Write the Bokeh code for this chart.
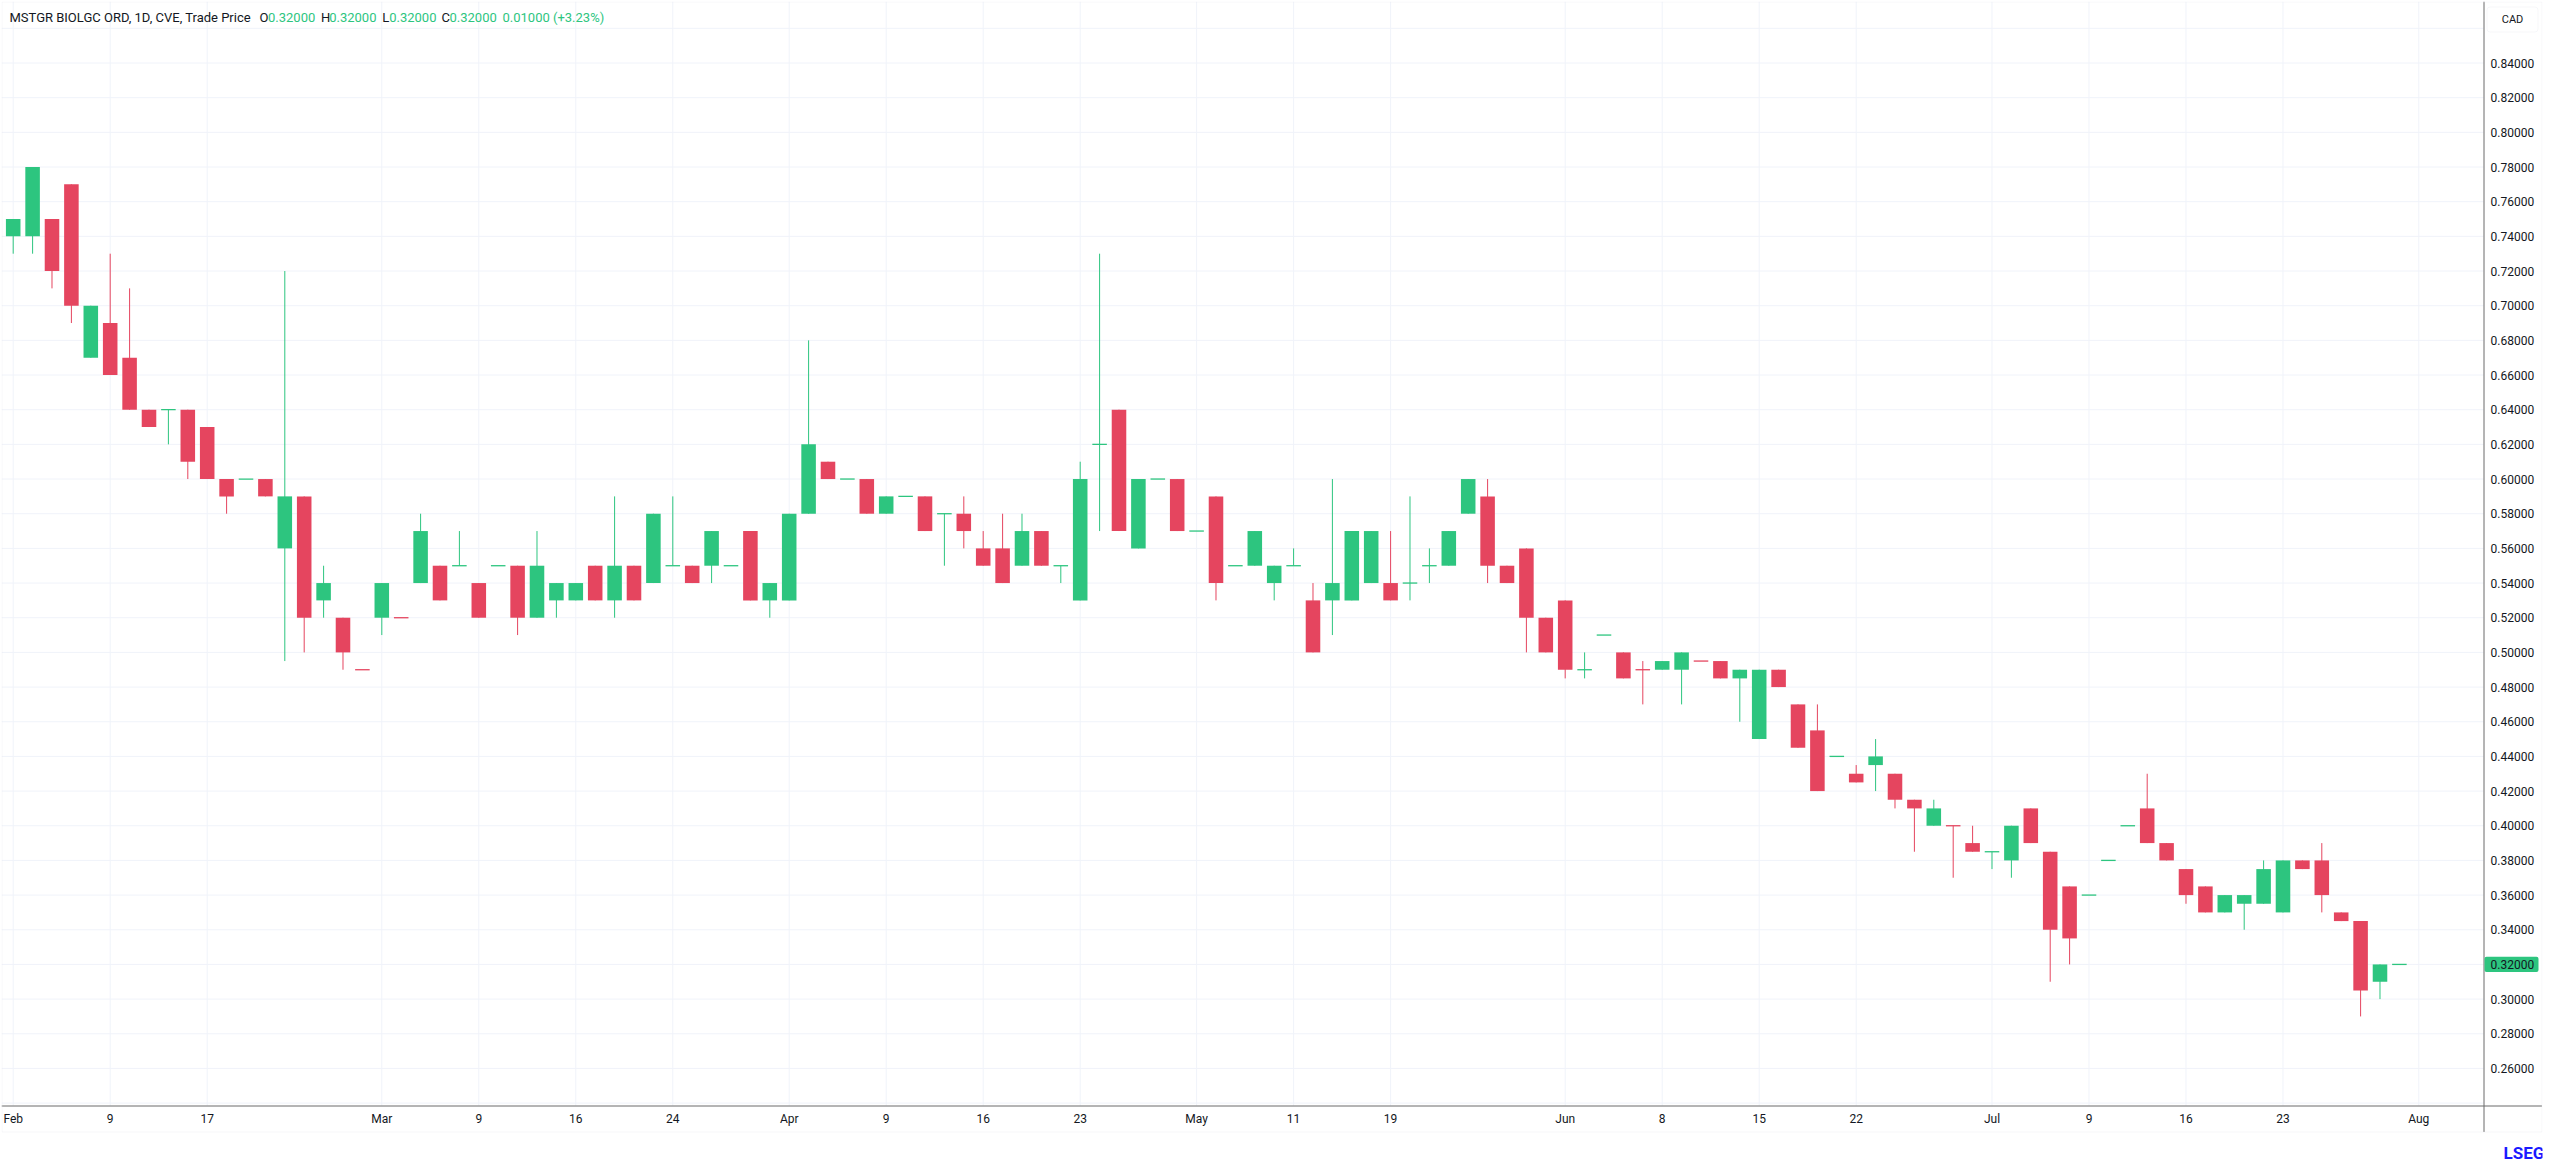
from bokeh.plotting import figure
from bokeh.models import (FixedTicker, NumeralTickFormatter, Range1d, Label,
                          BoxAnnotation, ColumnDataSource)
from bokeh.embed import file_html
from bokeh.resources import INLINE

# ---------------- data ----------------
opens = [0.74, 0.74, 0.75, 0.77, 0.67, 0.69, 0.67, 0.64, 0.64, 0.64,
         0.63, 0.60, 0.60, 0.60, 0.56, 0.59, 0.53, 0.52, 0.49, 0.52,
         0.52, 0.54, 0.55, 0.55, 0.54, 0.55, 0.55, 0.52, 0.53, 0.53,
         0.55, 0.53, 0.55, 0.54, 0.55, 0.55, 0.55, 0.55, 0.57, 0.53,
         0.53, 0.58, 0.61, 0.60, 0.60, 0.58, 0.59, 0.59, 0.58, 0.58,
         0.56, 0.56, 0.55, 0.57, 0.55, 0.53, 0.62, 0.64, 0.56, 0.60,
         0.60, 0.57, 0.59, 0.55, 0.55, 0.54, 0.55, 0.53, 0.53, 0.53,
         0.54, 0.54, 0.54, 0.55, 0.55, 0.58, 0.59, 0.55, 0.56, 0.52,
         0.53, 0.49, 0.51, 0.50, 0.49, 0.49, 0.49, 0.495, 0.495, 0.485,
         0.45, 0.49, 0.47, 0.455, 0.44, 0.43, 0.435, 0.43, 0.415, 0.40,
         0.40, 0.39, 0.385, 0.38, 0.41, 0.385, 0.365, 0.36, 0.38, 0.40,
         0.41, 0.39, 0.375, 0.365, 0.35, 0.355, 0.355, 0.35, 0.38, 0.38,
         0.35, 0.345, 0.31, 0.32]
highs = [0.75, 0.78, 0.75, 0.77, 0.70, 0.73, 0.71, 0.64, 0.64, 0.64,
         0.63, 0.60, 0.60, 0.60, 0.72, 0.59, 0.55, 0.52, 0.49, 0.54,
         0.52, 0.58, 0.55, 0.57, 0.54, 0.55, 0.55, 0.57, 0.54, 0.54,
         0.55, 0.59, 0.55, 0.58, 0.59, 0.55, 0.57, 0.55, 0.57, 0.54,
         0.58, 0.68, 0.61, 0.60, 0.60, 0.59, 0.59, 0.59, 0.58, 0.59,
         0.57, 0.58, 0.58, 0.57, 0.55, 0.61, 0.73, 0.64, 0.60, 0.60,
         0.60, 0.57, 0.59, 0.55, 0.57, 0.55, 0.56, 0.54, 0.60, 0.57,
         0.57, 0.57, 0.59, 0.56, 0.57, 0.60, 0.60, 0.55, 0.56, 0.52,
         0.53, 0.50, 0.51, 0.50, 0.495, 0.495, 0.50, 0.495, 0.495, 0.49,
         0.49, 0.49, 0.47, 0.47, 0.44, 0.435, 0.45, 0.43, 0.415, 0.415,
         0.40, 0.40, 0.385, 0.40, 0.41, 0.385, 0.365, 0.36, 0.38, 0.40,
         0.43, 0.39, 0.375, 0.365, 0.36, 0.36, 0.38, 0.38, 0.38, 0.39,
         0.35, 0.345, 0.32, 0.32]
lows = [0.73, 0.73, 0.71, 0.69, 0.67, 0.66, 0.64, 0.63, 0.62, 0.60,
        0.60, 0.58, 0.60, 0.59, 0.495, 0.50, 0.52, 0.49, 0.49, 0.51,
        0.52, 0.54, 0.53, 0.55, 0.52, 0.55, 0.51, 0.52, 0.52, 0.53,
        0.53, 0.52, 0.53, 0.54, 0.55, 0.54, 0.54, 0.55, 0.53, 0.52,
        0.53, 0.58, 0.60, 0.60, 0.58, 0.58, 0.59, 0.57, 0.55, 0.56,
        0.55, 0.54, 0.55, 0.55, 0.54, 0.53, 0.57, 0.57, 0.56, 0.60,
        0.57, 0.57, 0.53, 0.55, 0.55, 0.53, 0.55, 0.50, 0.51, 0.53,
        0.54, 0.53, 0.53, 0.54, 0.55, 0.58, 0.54, 0.54, 0.50, 0.50,
        0.485, 0.485, 0.51, 0.485, 0.47, 0.49, 0.47, 0.495, 0.485, 0.46,
        0.45, 0.48, 0.445, 0.42, 0.44, 0.425, 0.42, 0.41, 0.385, 0.40,
        0.37, 0.385, 0.375, 0.37, 0.39, 0.31, 0.32, 0.36, 0.38, 0.40,
        0.39, 0.38, 0.355, 0.35, 0.35, 0.34, 0.355, 0.35, 0.375, 0.35,
        0.345, 0.29, 0.30, 0.32]
closes = [0.75, 0.78, 0.72, 0.70, 0.70, 0.66, 0.64, 0.63, 0.64, 0.61,
          0.60, 0.59, 0.60, 0.59, 0.59, 0.52, 0.54, 0.50, 0.49, 0.54,
          0.52, 0.57, 0.53, 0.55, 0.52, 0.55, 0.52, 0.55, 0.54, 0.54,
          0.53, 0.55, 0.53, 0.58, 0.55, 0.54, 0.57, 0.55, 0.53, 0.54,
          0.58, 0.62, 0.60, 0.60, 0.58, 0.59, 0.59, 0.57, 0.58, 0.57,
          0.55, 0.54, 0.57, 0.55, 0.55, 0.60, 0.62, 0.57, 0.60, 0.60,
          0.57, 0.57, 0.54, 0.55, 0.57, 0.55, 0.55, 0.50, 0.54, 0.57,
          0.57, 0.53, 0.54, 0.55, 0.57, 0.60, 0.55, 0.54, 0.52, 0.50,
          0.49, 0.49, 0.51, 0.485, 0.49, 0.495, 0.50, 0.495, 0.485, 0.49,
          0.49, 0.48, 0.445, 0.42, 0.44, 0.425, 0.44, 0.415, 0.41, 0.41,
          0.40, 0.385, 0.385, 0.40, 0.39, 0.34, 0.335, 0.36, 0.38, 0.40,
          0.39, 0.38, 0.36, 0.35, 0.36, 0.36, 0.375, 0.38, 0.375, 0.36,
          0.345, 0.305, 0.32, 0.32]
# bars with open == close that are drawn in the "down" colour
down_doji = [18, 20, 84, 87, 100]

date_ticks = [0, 5, 10, 19, 24, 29, 34, 40, 45, 50, 55, 61, 66, 71, 80, 85,
              90, 95, 102, 107, 112, 117, 124]
date_labels = ["Feb", "9", "17", "Mar", "9", "16", "24", "Apr", "9", "16",
               "23", "May", "11", "19", "Jun", "8", "15", "22", "Jul", "9",
               "16", "23", "Aug"]
price_ticks = [0.26, 0.28, 0.30, 0.32, 0.34, 0.36, 0.38, 0.40, 0.42, 0.44,
               0.46, 0.48, 0.50, 0.52, 0.54, 0.56, 0.58, 0.60, 0.62, 0.64,
               0.66, 0.68, 0.70, 0.72, 0.74, 0.76, 0.78, 0.80, 0.82, 0.84]
grid_prices = [0.24] + price_ticks + [0.86]

title_text = "MSTGR BIOLGC ORD, 1D, CVE, Trade Price"
ohlc_keys = ["O", "H", "L", "C"]
ohlc_vals = ["0.32000", "0.32000", "0.32000", "0.32000"]
change_text = "0.01000 (+3.23%)"
last_price = 0.32
currency = "CAD"
brand = "LSEG"

# ---------------- style / layout ----------------
UP = "#2dc57f"
DOWN = "#e5455f"
TXT = "#131722"
GRID = "#f0f3fa"
AXIS = "#6b6b6b"
FRAME = "#e0e3eb"
FONT = "Roboto"

W, H = 2552, 1162
FL, FT = 1, 1                  # drawing frame left / top (px)
FRR, FBB = 2542, 1162          # drawing frame right / bottom (px)
PR, PB = 2483, 1105            # price-pane right edge / bottom edge (px)
OUT_B = 1131.5                 # outer widget border bottom (px)
PX_PER_BAR = 19.40
PX_PER_UNIT = 1733.5
X0 = -0.603
Y_TOP = 0.87548
X1 = X0 + (FRR - FL) / PX_PER_BAR
Y_BOT = Y_TOP - (FBB - FT) / PX_PER_UNIT


def px_x(px):
    return X0 + (px - FL) / PX_PER_BAR


def px_y(py):
    return Y_TOP - (py - FT) / PX_PER_UNIT


# ---------------- sources ----------------
n = len(closes)
idx = list(range(n))
colors = []
for i in idx:
    if closes[i] > opens[i]:
        colors.append(UP)
    elif closes[i] < opens[i]:
        colors.append(DOWN)
    else:
        colors.append(DOWN if i in down_doji else UP)

body = [i for i in idx if opens[i] != closes[i]]
doji = [i for i in idx if opens[i] == closes[i]]

wick_src = ColumnDataSource(dict(x=idx, lo=lows, hi=highs, c=colors))
body_src = ColumnDataSource(dict(
    x=body,
    top=[max(opens[i], closes[i]) for i in body],
    bot=[min(opens[i], closes[i]) for i in body],
    c=[colors[i] for i in body]))
BW = 0.75
doji_src = ColumnDataSource(dict(
    x0=[i - BW / 2 for i in doji], x1=[i + BW / 2 for i in doji],
    y=[closes[i] for i in doji], c=[colors[i] for i in doji]))

p = figure(width=W, height=H, output_backend="svg", toolbar_location=None,
           x_range=Range1d(X0, X1), y_range=Range1d(Y_BOT, Y_TOP),
           y_axis_location="right",
           min_border_left=FL, min_border_top=FT,
           min_border_right=W - FRR, min_border_bottom=H - FBB)
p.outline_line_color = None
p.background_fill_color = "white"
p.border_fill_color = "white"
p.xgrid.visible = False
p.ygrid.visible = False

# axes: labels pulled back into the price / time scale strips
p.xaxis.ticker = FixedTicker(ticks=date_ticks)
p.xaxis.major_label_overrides = {t: l for t, l in zip(date_ticks, date_labels)}
p.yaxis.ticker = FixedTicker(ticks=price_ticks)
p.yaxis.formatter = NumeralTickFormatter(format="0.00000")
for ax in (p.xaxis[0], p.yaxis[0]):
    ax.axis_line_color = None
    ax.major_tick_line_color = None
    ax.minor_tick_line_color = None
    ax.major_tick_out = 0
    ax.major_tick_in = 0
    ax.major_label_text_font = FONT
    ax.major_label_text_font_size = "12px"
    ax.major_label_text_color = TXT
p.xaxis.major_label_standoff = -51
p.yaxis.major_label_standoff = -52

# grid lines, limited to the price pane
hx0 = [X0] * len(grid_prices)
hx1 = [px_x(PR)] * len(grid_prices)
p.segment(x0=hx0, y0=grid_prices, x1=hx1, y1=grid_prices,
          line_color=GRID, line_width=1)
vy0 = [px_y(PB)] * len(date_ticks)
vy1 = [Y_TOP] * len(date_ticks)
p.segment(x0=date_ticks, y0=vy0, x1=date_ticks, y1=vy1,
          line_color=GRID, line_width=1)

# candles
p.segment(x0="x", y0="lo", x1="x", y1="hi", line_color="c", line_width=1,
          source=wick_src)
p.vbar(x="x", width=BW, top="top", bottom="bot", fill_color="c",
       line_color=None, source=body_src)
p.segment(x0="x0", y0="y", x1="x1", y1="y", line_color="c", line_width=1.3,
          source=doji_src)

# scale lines
p.segment(x0=[X0], y0=[px_y(PB + 0.5)], x1=[px_x(FRR - 0.5)],
          y1=[px_y(PB + 0.5)], line_color=AXIS, line_width=1)
p.segment(x0=[px_x(PR + 0.5)], y0=[Y_TOP], x1=[px_x(PR + 0.5)],
          y1=[px_y(OUT_B)], line_color=AXIS, line_width=1)

# outer widget border
p.add_layout(BoxAnnotation(left=px_x(1.5), right=px_x(FRR - 0.5),
                           top=px_y(1.5), bottom=px_y(OUT_B),
                           fill_color=None, line_color=FRAME, line_width=1,
                           level="annotation"))

# currency box
p.add_layout(BoxAnnotation(left=px_x(2486.5), right=px_x(2537.5),
                           top=px_y(6.5), bottom=px_y(31.5),
                           fill_color="white", fill_alpha=1,
                           line_color=FRAME, line_width=1, border_radius=3,
                           level="annotation"))
p.add_layout(Label(x=px_x(2512), y=px_y(19), text=currency, text_align="center",
                   text_baseline="middle", text_font=FONT,
                   text_font_size="11px", text_color=TXT))

# last price label
half = 7.6 / PX_PER_UNIT
p.add_layout(BoxAnnotation(left=px_x(PR + 1), right=px_x(2538),
                           top=last_price + half, bottom=last_price - half,
                           fill_color=UP, fill_alpha=1, line_color=None,
                           border_radius=2, level="annotation"))
p.add_layout(Label(x=px_x(2490), y=last_price, text=ohlc_vals[3],
                   text_align="left", text_baseline="middle", text_font=FONT,
                   text_font_size="12px", text_color=TXT))

# legend line
TY = px_y(17)
TSIZE = "13px"
p.add_layout(Label(x=px_x(9), y=TY, text=title_text, text_align="left",
                   text_baseline="middle", text_font=FONT,
                   text_font_size=TSIZE, text_color=TXT))
key_px = [259, 320.6, 381.8, 441]
val_px = [267.5, 328.7, 388.7, 449]
for k, v, kx, vx in zip(ohlc_keys, ohlc_vals, key_px, val_px):
    p.add_layout(Label(x=px_x(kx), y=TY, text=k, text_align="left",
                       text_baseline="middle", text_font=FONT,
                       text_font_size=TSIZE, text_color=TXT))
    p.add_layout(Label(x=px_x(vx), y=TY, text=v, text_align="left",
                       text_baseline="middle", text_font=FONT,
                       text_font_size=TSIZE, text_color=UP))
p.add_layout(Label(x=px_x(502), y=TY, text=change_text, text_align="left",
                   text_baseline="middle", text_font=FONT,
                   text_font_size=TSIZE, text_color=UP))

# brand
p.add_layout(Label(x=px_x(2503), y=px_y(1152), text=brand, text_align="left",
                   text_baseline="middle", text_font=FONT,
                   text_font_size="17px", text_font_style="bold",
                   text_color="#1a1aff"))

open("out.html", "w").write(file_html(p, INLINE))
